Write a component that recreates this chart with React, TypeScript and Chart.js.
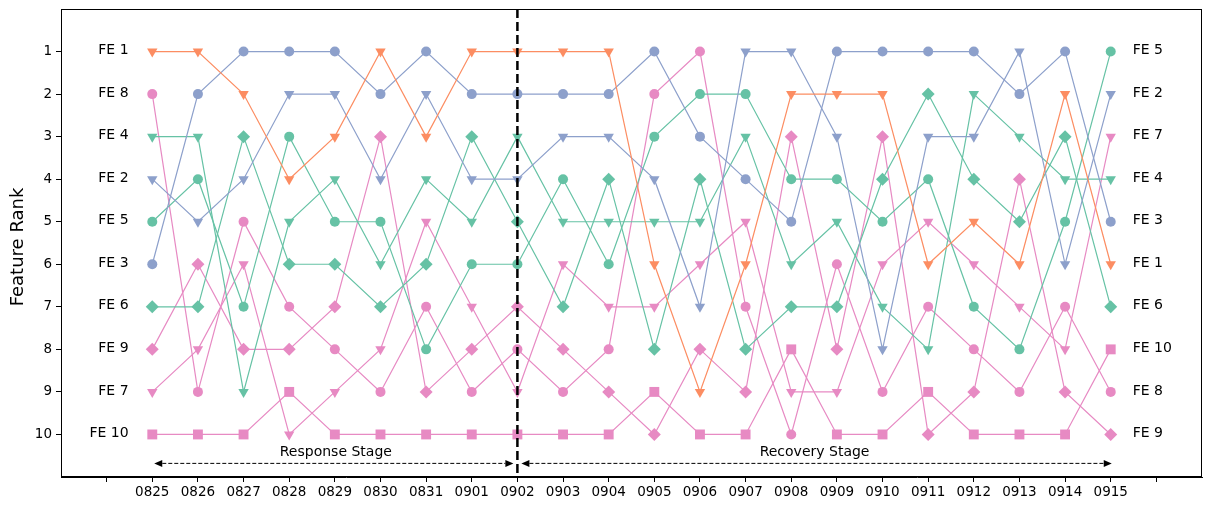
import React, { useEffect, useRef } from "react";
import { Chart, registerables } from "chart.js";

Chart.register(...registerables);

// dates on the x axis
const dates = [
  "0825", "0826", "0827", "0828", "0829", "0830", "0831", "0901", "0902", "0903", "0904",
  "0905", "0906", "0907", "0908", "0909", "0910", "0911", "0912", "0913", "0914", "0915",
];

const features = ["FE 1", "FE 2", "FE 3", "FE 4", "FE 5", "FE 6", "FE 7", "FE 8", "FE 9", "FE 10"];

// rank of each feature per date
const fe1 = [1, 1, 2, 4, 3, 1, 3, 1, 1, 1, 1, 6, 9, 6, 2, 2, 2, 6, 5, 6, 2, 6];
const fe2 = [4, 5, 4, 2, 2, 4, 2, 4, 4, 3, 3, 4, 7, 1, 1, 3, 8, 3, 3, 1, 6, 2];
const fe3 = [6, 2, 1, 1, 1, 2, 1, 2, 2, 2, 2, 1, 3, 4, 5, 1, 1, 1, 1, 2, 1, 5];
const fe4 = [3, 3, 9, 5, 4, 6, 4, 5, 3, 5, 5, 5, 5, 3, 6, 5, 7, 8, 2, 3, 4, 4];
const fe5 = [5, 4, 7, 3, 5, 5, 8, 6, 6, 4, 6, 3, 2, 2, 4, 4, 5, 4, 7, 8, 5, 1];
const fe6 = [7, 7, 3, 6, 6, 7, 6, 3, 5, 7, 4, 8, 4, 8, 7, 7, 4, 2, 4, 5, 3, 7];
const fe7 = [9, 8, 6, 10, 9, 8, 5, 7, 9, 6, 7, 7, 6, 5, 9, 9, 6, 5, 6, 7, 8, 3];
const fe8 = [2, 9, 5, 7, 8, 9, 7, 9, 8, 9, 8, 2, 1, 7, 10, 6, 9, 7, 8, 9, 7, 9];
const fe9 = [8, 6, 8, 8, 7, 3, 9, 8, 7, 8, 9, 10, 8, 9, 3, 8, 3, 10, 9, 4, 9, 10];
const fe10 = [10, 10, 10, 9, 10, 10, 10, 10, 10, 10, 10, 9, 10, 10, 8, 10, 10, 9, 10, 10, 10, 8];
const ranks = [fe1, fe2, fe3, fe4, fe5, fe6, fe7, fe8, fe9, fe10];

const rankTicks = [1, 2, 3, 4, 5, 6, 7, 8, 9, 10];

const stageLabels = ["Response Stage", "Recovery Stage"];
const splitDate = "0902";

// styling per feature
const GREEN = "#66c2a5";
const ORANGE = "#fc8d62";
const BLUE = "#8da0cb";
const PINK = "#e78ac3";
const colors = [ORANGE, BLUE, BLUE, GREEN, GREEN, GREEN, PINK, PINK, PINK, PINK];
const markers = ["v", "v", "o", "v", "o", "D", "v", "o", "D", "s"];

const FONT = "'DejaVu Sans', sans-serif";

function markerStyle(m: string) {
  if (m === "v") return { pointStyle: "triangle", pointRotation: 180, pointRadius: 6 };
  if (m === "D") return { pointStyle: "rectRot", pointRotation: 0, pointRadius: 6.5 };
  if (m === "s") return { pointStyle: "rect", pointRotation: 0, pointRadius: 7 };
  return { pointStyle: "circle", pointRotation: 0, pointRadius: 5 };
}

function drawArrow(ctx: CanvasRenderingContext2D, x1: number, x2: number, y: number) {
  const head = 8;
  const half = 3.5;
  ctx.setLineDash([4, 2]);
  ctx.lineWidth = 1;
  ctx.beginPath();
  ctx.moveTo(x1 + head, y);
  ctx.lineTo(x2 - head, y);
  ctx.stroke();
  ctx.setLineDash([]);
  ctx.beginPath();
  ctx.moveTo(x1, y);
  ctx.lineTo(x1 + head, y - half);
  ctx.lineTo(x1 + head, y + half);
  ctx.closePath();
  ctx.fill();
  ctx.beginPath();
  ctx.moveTo(x2, y);
  ctx.lineTo(x2 - head, y - half);
  ctx.lineTo(x2 - head, y + half);
  ctx.closePath();
  ctx.fill();
}

const overlay = {
  id: "overlay",
  afterDatasetsDraw(chart: any) {
    const { ctx, chartArea: a, scales } = chart;
    const xs = scales.x;
    const ys = scales.y;
    const split = dates.indexOf(splitDate);
    const last = dates.length - 1;
    ctx.save();

    // stage divider
    const sx = xs.getPixelForValue(split);
    ctx.strokeStyle = "#000";
    ctx.fillStyle = "#000";
    ctx.lineWidth = 2.5;
    ctx.setLineDash([9, 4]);
    ctx.beginPath();
    ctx.moveTo(sx, a.top);
    ctx.lineTo(sx, a.bottom);
    ctx.stroke();

    // stage arrows + labels
    const ay = ys.getPixelForValue(10.68);
    const ty = ys.getPixelForValue(10.42);
    const x0 = xs.getPixelForValue(0) + 2;
    const xe = xs.getPixelForValue(last) + 1;
    drawArrow(ctx, x0, sx - 4, ay);
    drawArrow(ctx, sx + 4, xe, ay);
    ctx.font = `14px ${FONT}`;
    ctx.textAlign = "center";
    ctx.textBaseline = "middle";
    ctx.fillText(stageLabels[0], (x0 + sx) / 2, ty);
    ctx.fillText(stageLabels[1], (sx + xe) / 2, ty);

    // feature names at both ends
    ctx.font = `14px ${FONT}`;
    ranks.forEach((r, i) => {
      ctx.textAlign = "right";
      ctx.fillText(features[i], xs.getPixelForValue(-0.52), ys.getPixelForValue(r[0]) - 1);
      ctx.textAlign = "left";
      ctx.fillText(features[i], xs.getPixelForValue(last + 0.48), ys.getPixelForValue(r[last]) - 1);
    });

    // frame
    ctx.setLineDash([]);
    ctx.lineWidth = 1;
    ctx.strokeRect(a.left + 0.5, a.top + 0.5, a.right - a.left - 1, a.bottom - a.top - 1);

    // y title
    ctx.save();
    ctx.translate(18, (a.top + a.bottom) / 2 + 4);
    ctx.rotate(-Math.PI / 2);
    ctx.font = `18px ${FONT}`;
    ctx.textAlign = "center";
    ctx.textBaseline = "middle";
    ctx.fillText("Feature Rank", 0, 0);
    ctx.restore();

    ctx.restore();
  },
};

const App: React.FC = () => {
  const chartRef = useRef<HTMLCanvasElement | null>(null);

  useEffect(() => {
    document.body.style.margin = "0";
    if (!chartRef.current) return;
    const ctx = chartRef.current.getContext("2d");
    if (!ctx) return;

    const datasets = ranks.map((r, i) => ({
      label: features[i],
      data: r.map((v, j) => ({ x: j, y: v })),
      borderColor: colors[i],
      backgroundColor: colors[i],
      pointBackgroundColor: colors[i],
      pointBorderWidth: 0,
      borderWidth: 1.2,
      tension: 0,
      ...markerStyle(markers[i]),
    }));

    const xTicks: number[] = [];
    for (let v = -1; v <= dates.length; v++) xTicks.push(v);

    const tickGrid = {
      display: true,
      drawOnChartArea: false,
      drawTicks: true,
      tickLength: 5,
      tickColor: "#000",
      tickWidth: 1,
    };

    const chart = new Chart(ctx, {
      type: "line",
      data: { datasets: datasets as any },
      options: {
        responsive: false,
        animation: false,
        layout: { padding: { top: 9, right: 9, left: 0, bottom: 0 } },
        plugins: { legend: { display: false }, tooltip: { enabled: false } },
        scales: {
          x: {
            type: "linear",
            min: -2,
            max: dates.length + 1,
            afterBuildTicks: (s: any) => {
              s.ticks = xTicks.map((v) => ({ value: v }));
            },
            afterFit: (s: any) => {
              s.height = 34;
              s.paddingLeft = 0;
              s.paddingRight = 0;
            },
            ticks: {
              autoSkip: false,
              maxRotation: 0,
              padding: 2,
              color: "#000",
              font: { family: FONT, size: 13.5 },
              callback: (v: any) => dates[v] ?? "",
            },
            grid: tickGrid,
            border: { display: true, color: "#000", width: 1 },
          },
          y: {
            type: "linear",
            reverse: true,
            min: 0,
            max: 11,
            afterBuildTicks: (s: any) => {
              s.ticks = rankTicks.map((v) => ({ value: v }));
            },
            afterFit: (s: any) => {
              s.width = 61;
              s.paddingTop = 0;
              s.paddingBottom = 0;
            },
            ticks: {
              padding: 4,
              color: "#000",
              font: { family: FONT, size: 13.5 },
            },
            grid: tickGrid,
            border: { display: true, color: "#000", width: 1 },
          },
        },
      },
      plugins: [overlay],
    });

    return () => {
      chart.destroy();
    };
  }, []);

  return <canvas ref={chartRef} width={1211} height={511} style={{ display: "block" }}></canvas>;
};

export default App;
